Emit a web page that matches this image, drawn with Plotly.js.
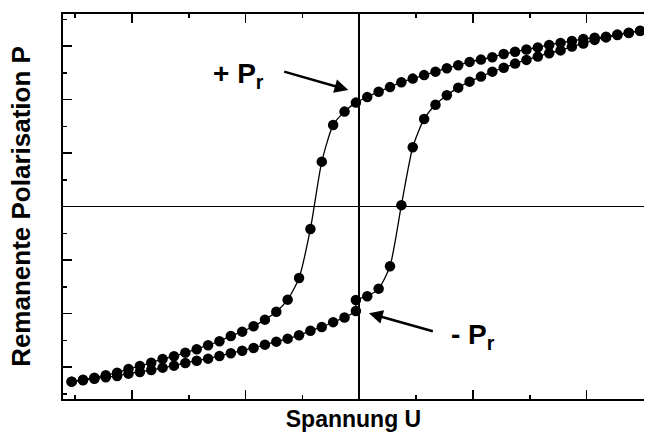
<!DOCTYPE html>
<html>
<head>
<meta charset="utf-8">
<script src="https://cdn.plot.ly/plotly-3.0.1.min.js"></script>
<style>html,body{margin:0;padding:0;background:#fff;overflow:hidden}#chart{width:645px;height:436px}</style>
</head>
<body>
<div id="chart"></div>
<script>
// Voltage grid (arbitrary units) and polarisation values
const upperU = [-2.53,-2.43,-2.33,-2.23,-2.13,-2.03,-1.93,-1.83,-1.73,-1.63,-1.53,-1.43,-1.33,-1.23,-1.13,-1.03,-0.93,-0.83,-0.73,-0.63,-0.53,-0.43,-0.33,-0.23,-0.13,-0.03,0.07,0.17,0.27,0.37,0.47,0.57,0.67,0.77,0.87,0.97,1.07,1.17,1.27,1.37,1.47,1.57,1.67,1.77,1.87,1.97,2.07,2.17,2.27,2.37,2.47];
const upperP = [-3.271,-3.234,-3.196,-3.151,-3.103,-3.034,-2.978,-2.916,-2.847,-2.796,-2.729,-2.665,-2.591,-2.516,-2.417,-2.336,-2.236,-2.112,-1.963,-1.738,-1.333,-0.417,0.841,1.527,1.776,1.944,2.047,2.148,2.234,2.325,2.393,2.458,2.523,2.587,2.643,2.705,2.748,2.793,2.854,2.895,2.937,2.976,3.022,3.060,3.097,3.135,3.157,3.175,3.215,3.250,3.288];
const lowerU = [-2.53,-2.43,-2.33,-2.23,-2.13,-2.03,-1.93,-1.83,-1.73,-1.63,-1.53,-1.43,-1.33,-1.23,-1.13,-1.03,-0.93,-0.83,-0.73,-0.63,-0.53,-0.43,-0.33,-0.23,-0.13,-0.03,-0.03,0.07,0.17,0.27,0.37,0.47,0.57,0.67,0.77,0.87,0.97,1.07,1.17,1.27,1.37,1.47,1.57,1.67,1.77,1.87,1.97,2.07,2.17,2.27,2.37,2.47];
const lowerP = [-3.271,-3.245,-3.215,-3.189,-3.164,-3.121,-3.090,-3.052,-3.009,-2.972,-2.921,-2.879,-2.841,-2.791,-2.740,-2.692,-2.641,-2.579,-2.523,-2.467,-2.404,-2.320,-2.249,-2.159,-2.071,-1.950,-1.744,-1.675,-1.533,-1.114,0.028,1.110,1.639,1.905,2.082,2.224,2.336,2.430,2.523,2.596,2.673,2.742,2.804,2.867,2.920,2.991,3.049,3.116,3.163,3.209,3.247,3.284];

const xTitle = 'Spannung U';
const yTitle = 'Remanente Polarisation P';
const plusLabel = '+ P<sub>r</sub>';
const minusLabel = '- P<sub>r</sub>';

const FONT = 'Liberation Sans, Arial, sans-serif';
const styleTrace = (x, y, name) => ({
  x: x, y: y, name: name, type: 'scatter', mode: 'lines+markers',
  line: {color: '#000', width: 1.3, shape: 'spline', smoothing: 0.6},
  marker: {color: '#000', size: 10.5},
  hoverinfo: 'skip'
});

const data = [styleTrace(upperU, upperP, 'upper'), styleTrace(lowerU, lowerP, 'lower')];

const axisCommon = {
  showgrid: false, showticklabels: false,
  zeroline: true, zerolinecolor: '#000', zerolinewidth: 1.6,
  showline: true, linecolor: '#000', linewidth: 2,
  ticks: 'inside', ticklen: 9, tickwidth: 1.5, tickcolor: '#000',
  dtick: 1, tick0: 0,
  minor: {ticks: 'inside', ticklen: 4, tickwidth: 1.5, tickcolor: '#000', dtick: 0.5},
  fixedrange: true
};

const layout = {
  width: 645, height: 436,
  margin: {l: 63, r: 1, t: 14, b: 37},
  paper_bgcolor: '#fff', plot_bgcolor: '#fff',
  showlegend: false,
  font: {family: FONT, color: '#000'},
  xaxis: Object.assign({}, axisCommon, {
    range: [-2.606, 2.504], mirror: 'allticks',
    title: {text: xTitle, font: {family: FONT, size: 23, weight: 'bold', color: '#000'}, standoff: 11}
  }),
  yaxis: Object.assign({}, axisCommon, {
    range: [-3.595, 3.6], mirror: false,
    title: {text: yTitle, font: {family: FONT, size: 26, weight: 'bold', color: '#000'}, standoff: 23}
  }),
  annotations: [
    {x: -0.097, y: 2.181, ax: -0.674, ay: 2.531, axref: 'x', ayref: 'y', xref: 'x', yref: 'y',
     text: '', showarrow: true, arrowhead: 2, arrowsize: 1.1, arrowwidth: 2.5, arrowcolor: '#000'},
    {x: 0.085, y: -1.993, ax: 0.660, ay: -2.336, axref: 'x', ayref: 'y', xref: 'x', yref: 'y',
     text: '', showarrow: true, arrowhead: 2, arrowsize: 1.1, arrowwidth: 2.5, arrowcolor: '#000'},
    {x: -0.82, y: 2.45, xref: 'x', yref: 'y', xanchor: 'right', yanchor: 'middle', showarrow: false,
     text: plusLabel, font: {family: FONT, size: 28, weight: 'bold', color: '#000'}},
    {x: 0.79, y: -2.42, xref: 'x', yref: 'y', xanchor: 'left', yanchor: 'middle', showarrow: false,
     text: minusLabel, font: {family: FONT, size: 28, weight: 'bold', color: '#000'}}
  ]
};

Plotly.newPlot('chart', data, layout, {displayModeBar: false, staticPlot: true});
</script>
</body>
</html>
